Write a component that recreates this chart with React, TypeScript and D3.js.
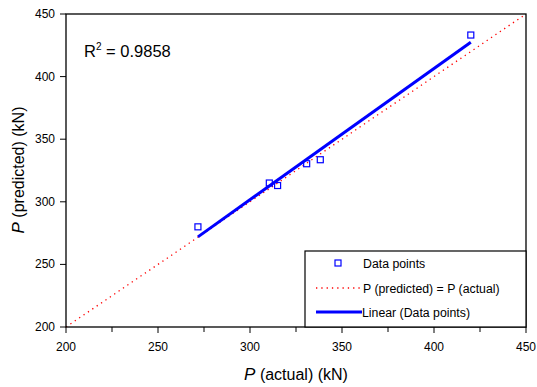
import React from 'react';
import * as d3 from 'd3';

const actual = [271.7, 310.5, 315, 330.8, 338.2, 420];
const predicted = [280, 315, 313, 330.4, 333.6, 433.2];
const xTicks = [200, 250, 300, 350, 400, 450];
const xMinor = [225, 275, 325, 375, 425];
const yTicks = [200, 250, 300, 350, 400, 450];
const legendItems = ['Data points', 'P (predicted) = P (actual)', 'Linear (Data points)'];

const W = 537;
const H = 387;

export default function App() {
  const x = d3.scaleLinear().domain([200, 450]).range([66, 526]);
  const y = d3.scaleLinear().domain([200, 450]).range([327, 14]);

  // least squares fit
  const mx = d3.mean(actual)!;
  const my = d3.mean(predicted)!;
  let sxy = 0, sxx = 0;
  actual.forEach((a, i) => {
    sxy += (a - mx) * (predicted[i] - my);
    sxx += (a - mx) * (a - mx);
  });
  const slope = sxy / sxx;
  const icpt = my - slope * mx;
  const [x0, x1] = d3.extent(actual) as [number, number];

  const line = d3.line<[number, number]>().x(d => x(d[0])).y(d => y(d[1]));
  const font = '"Liberation Sans", Arial, sans-serif';

  return (
    <svg width={W} height={H} style={{ position: 'absolute', left: 0, top: 0, fontFamily: font }}>
      <rect width={W} height={H} fill="#fff" />
      {/* y = x reference */}
      <path d={line([[200, 200], [450, 450]])!} stroke="#ff0000" strokeWidth={1.3} strokeDasharray="1.3 4" fill="none" />
      {/* trend line */}
      <path d={line([[x0, slope * x0 + icpt], [x1, slope * x1 + icpt]])!} stroke="#0000ff" strokeWidth={3} fill="none" />
      {actual.map((a, i) => (
        <rect key={i} x={x(a) - 3} y={y(predicted[i]) - 3} width={6} height={6} fill="none" stroke="#0000ff" strokeWidth={1.2} />
      ))}
      {/* frame */}
      <rect x={66} y={14} width={460} height={313} fill="none" stroke="#000" strokeWidth={1.3} />
      {xTicks.map(t => (
        <g key={t}>
          <line x1={x(t)} x2={x(t)} y1={327} y2={333} stroke="#000" />
          <text x={x(t)} y={351} fontSize={12} textAnchor="middle">{t}</text>
        </g>
      ))}
      {xMinor.map(t => (
        <line key={t} x1={x(t)} x2={x(t)} y1={327} y2={332} stroke="#000" />
      ))}
      {yTicks.map(t => (
        <g key={t}>
          <line x1={60} x2={66} y1={y(t)} y2={y(t)} stroke="#000" />
          <text x={55} y={y(t) + 4} fontSize={12} textAnchor="end">{t}</text>
        </g>
      ))}
      <text x={296} y={380} fontSize={16} textAnchor="middle">
        <tspan fontStyle="italic" fontSize={17}>P</tspan>
        <tspan>{'  (actual) (kN)'}</tspan>
      </text>
      <text transform="translate(24,170) rotate(-90)" fontSize={16} textAnchor="middle">
        <tspan fontStyle="italic" fontSize={17}>P</tspan>
        <tspan>{'  (predicted) (kN)'}</tspan>
      </text>
      <text x={84} y={57} fontSize={16.5}>
        R<tspan dy={-7} fontSize={10}>2</tspan><tspan dy={7}>{' = 0.9858'}</tspan>
      </text>
      {/* legend */}
      <rect x={305} y={251} width={221} height={76} fill="#fff" stroke="#000" strokeWidth={1.2} />
      <rect x={335} y={260} width={6} height={6} fill="none" stroke="#0000ff" strokeWidth={1.2} />
      <line x1={316} x2={361} y1={288} y2={288} stroke="#ff0000" strokeWidth={1.3} strokeDasharray="1.3 4" />
      <line x1={316} x2={362} y1={312} y2={312} stroke="#0000ff" strokeWidth={3} />
      {legendItems.map((s, i) => (
        <text key={s} x={i === 2 ? 362 : 363} y={268 + i * 24.5} fontSize={12.3}>{s}</text>
      ))}
    </svg>
  );
}
